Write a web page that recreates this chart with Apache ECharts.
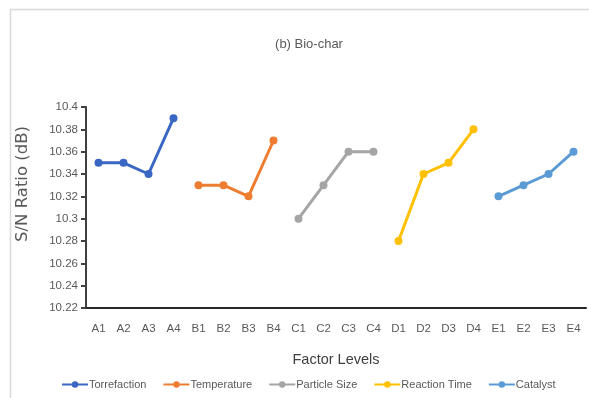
<!DOCTYPE html>
<html>
<head>
<meta charset="utf-8">
<script src="https://cdn.jsdelivr.net/npm/echarts@6/dist/echarts.min.js"></script>
<style>
  html, body { margin: 0; padding: 0; background: #fff; }
  #chart { width: 589px; height: 398px; }
</style>
</head>
<body>
<div id="chart"></div>
<script>
// Factor levels on the category axis
const categories = ['A1','A2','A3','A4','B1','B2','B3','B4','C1','C2','C3','C4',
                    'D1','D2','D3','D4','E1','E2','E3','E4'];

// Mean S/N ratio (dB) for each level of each factor
const torrefaction = [10.35, 10.35, 10.34, 10.39];
const temperature  = [10.33, 10.33, 10.32, 10.37];
const particleSize = [10.30, 10.33, 10.36, 10.36];
const reactionTime = [10.28, 10.34, 10.35, 10.38];
const catalyst     = [10.32, 10.33, 10.34, 10.36];

const factorNames = ['Torrefaction', 'Temperature', 'Particle Size', 'Reaction Time', 'Catalyst'];
const factorValues = [torrefaction, temperature, particleSize, reactionTime, catalyst];
const colors = ['#3a67c4', '#ed7d31', '#a5a5a5', '#ffc000', '#5b9bd5'];

const narrowFont = 'Liberation Sans, Arial, sans-serif';

// Each factor occupies its own block of four categories; other slots stay empty
function placeBlock(values, blockIndex) {
  const row = new Array(categories.length).fill(null);
  values.forEach((v, i) => { row[blockIndex * 4 + i] = v; });
  return row;
}

const series = factorNames.map((name, k) => ({
  name: name,
  type: 'line',
  data: placeBlock(factorValues[k], k),
  connectNulls: false,
  symbol: 'circle',
  symbolSize: 8,
  lineStyle: { width: 3, color: colors[k] },
  itemStyle: { color: colors[k] },
  emphasis: { disabled: true }
}));

const chart = echarts.init(document.getElementById('chart'), null, { renderer: 'canvas' });
chart.setOption({
  animation: false,
  color: colors,
  title: {
    text: '(b) Bio-char',
    left: 304,
    top: 33,
    textAlign: 'center',
    textStyle: { fontFamily: narrowFont, fontSize: 13, fontWeight: 'normal', color: '#595959' }
  },
  graphic: [{
    type: 'rect',
    shape: { x: 10.5, y: 9.5, width: 600, height: 400 },
    style: { fill: 'none', stroke: '#d9d9d9', lineWidth: 1.5 },
    silent: true
  }, {
    type: 'text',
    x: 23,
    y: 184,
    rotation: Math.PI / 2,
    silent: true,
    style: {
      text: 'S/N Ratio (dB)',
      fontFamily: 'DejaVu Sans',
      fontSize: 16.5,
      fill: '#595959',
      align: 'center',
      verticalAlign: 'middle'
    }
  }],
  grid: { left: 86, right: 3, top: 107, bottom: 90 },
  xAxis: {
    type: 'category',
    data: categories,
    boundaryGap: true,
    name: 'Factor Levels',
    nameLocation: 'middle',
    nameGap: 44,
    nameTextStyle: { fontFamily: narrowFont, fontSize: 14.5, color: '#404040' },
    axisLine: { lineStyle: { color: '#262626', width: 2 } },
    axisTick: { show: false },
    axisLabel: { margin: 15, fontFamily: narrowFont, fontSize: 11.5, color: '#595959', interval: 0 }
  },
  yAxis: {
    type: 'value',
    min: 10.22,
    max: 10.4,
    interval: 0.02,
    axisLine: { show: true, lineStyle: { color: '#404040', width: 2 } },
    axisTick: { show: true, length: 5, lineStyle: { color: '#404040', width: 2 } },
    splitLine: { show: false },
    axisLabel: {
      margin: 8,
      fontFamily: narrowFont,
      fontSize: 11.5,
      color: '#595959',
      formatter: v => String(parseFloat(v.toFixed(2)))
    }
  },
  legend: {
    data: factorNames,
    bottom: 3,
    left: 56,
    itemWidth: 26,
    itemHeight: 8,
    itemGap: 16,
    textStyle: { fontFamily: narrowFont, fontSize: 11, color: '#595959', padding: [0, 0, 0, -4] }
  },
  series: series
});
</script>
</body>
</html>
